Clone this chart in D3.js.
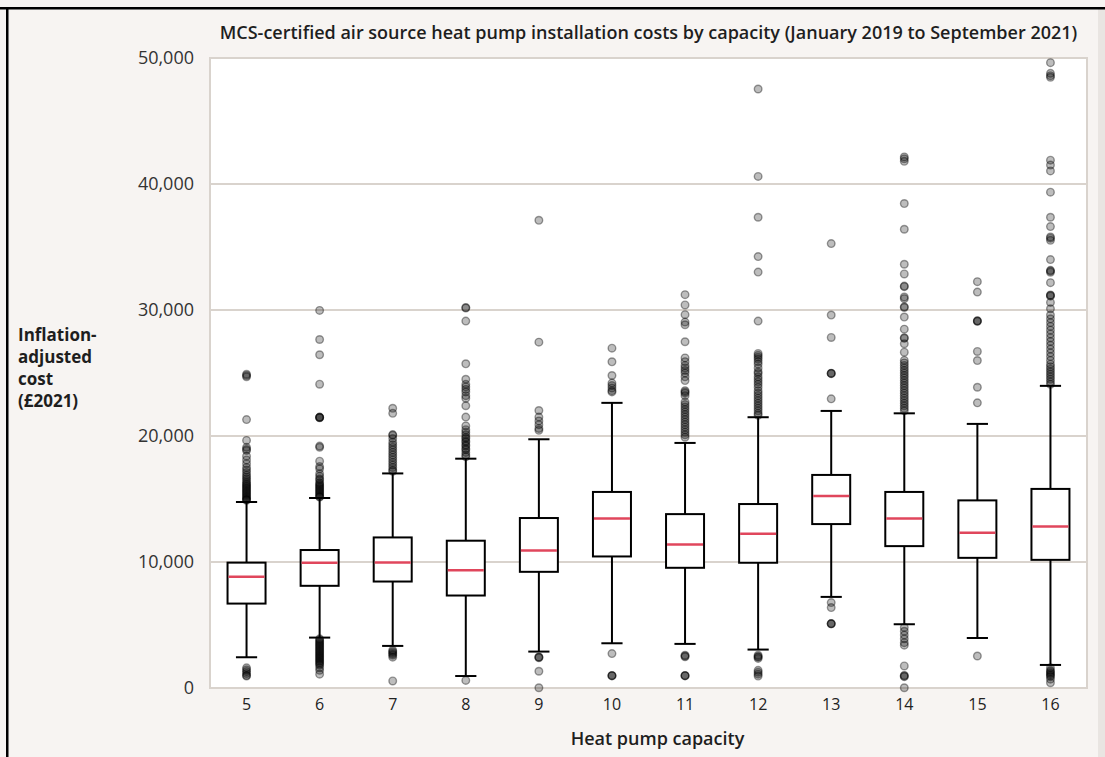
<!DOCTYPE html>
<html lang="en">
  <head>
    <meta charset="utf-8">
    <title>Heat pump installation costs by capacity</title>
    <script src="https://cdnjs.cloudflare.com/ajax/libs/d3/7.8.5/d3.min.js"></script>
    <style>
      body { margin: 0; background: #f7f4f2; }
      svg { display: block; font-family: "Open Sans", "Noto Sans", sans-serif; }
    </style>
  </head>
  <body>
    <div class="chart"></div>
    <script>

      // capacity categories (kW)
      var capacities = ["5", "6", "7", "8", "9", "10", "11", "12", "13", "14", "15", "16"];

      // box stats (£2021)
      var whiskerLow  = [2440, 4000, 3340, 950, 2890, 3550, 3500, 3050, 7230, 5060, 3970, 1830];
      var q1          = [6700, 8110, 8450, 7340, 9220, 10440, 9540, 9940, 13010, 11260, 10330, 10170];
      var medians     = [8820, 9940, 9960, 9350, 10920, 13460, 11390, 12240, 15240, 13460, 12320, 12820];
      var q3          = [9950, 10950, 11950, 11690, 13490, 15560, 13800, 14600, 16910, 15560, 14890, 15800];
      var whiskerHigh = [14760, 15080, 17030, 18200, 19740, 22630, 19450, 21490, 21990, 21800, 20960, 23980];

      // outliers per capacity
      var outliers = [
        [24900, 24800, 24700, 21300, 19650, 19100, 18950, 18850, 18400, 18100, 17800, 17500, 17300, 17100, 16900, 16750,
         16600, 16450, 16300, 16200, 16100, 16000, 15900, 15800, 15700, 15600, 15500, 15400, 15300, 15200, 15100, 15000,
         14950, 14900, 1600, 1450, 1300, 1150, 1000, 950],
        [29970, 27660, 26450, 24110, 21500, 21480, 21470, 21450, 19200, 19100, 18000, 17570, 17400, 17000, 16800, 16600,
         16500, 16300, 16200, 16100, 16000, 15900, 15800, 15700, 15600, 15500, 15400, 15300, 15200, 15150,
         3900, 3800, 3700, 3600, 3500, 3400, 3300, 3200, 3100, 3000, 2900, 2800, 2700, 2600, 2500, 2400, 2300, 2200,
         2100, 2000, 1900, 1800, 1600, 1400, 1100],
        [22200, 21800, 20110, 20050, 19800, 19500, 19300, 19100, 18900, 18700, 18500, 18300, 18100, 17900, 17700, 17500,
         17300, 17200, 3000, 2900, 2800, 2700, 2600, 2450, 560],
        [30200, 30150, 29120, 25730, 24500, 24100, 23900, 23700, 23500, 23200, 23000, 22400, 21500, 20800, 20500, 20300,
         20100, 19900, 19800, 19600, 19500, 19300, 19200, 19000, 18900, 18700, 18500, 18350, 600],
        [37120, 27450, 22020, 21500, 21200, 20900, 20600, 20450, 2460, 2450, 2400, 1330, 20],
        [26970, 25890, 24800, 24200, 24000, 23800, 23600, 23500, 2730, 1000, 980, 960],
        [31220, 30400, 29630, 29040, 28830, 27480, 26200, 25900, 25600, 25400, 25200, 25000, 24700, 24400, 23600, 23500,
         23400, 23200, 22700, 22500, 22300, 22100, 21900, 21700, 21500, 21300, 21100, 20900, 20700, 20500, 20300, 20100,
         19900, 2600, 2540, 2480, 1000, 980, 960],
        [47540, 40600, 37360, 34240, 33010, 29120, 26550, 26400, 26250, 26100, 25900, 25700, 25400, 25100, 24960, 24700,
         24500, 24300, 24100, 23870, 23600, 23400, 23200, 23000, 22800, 22600, 22400, 22200, 22000, 21800, 21650,
         2600, 2500, 2450, 2350, 1400, 1250, 1100, 950],
        [35270, 29600, 27820, 24990, 24970, 24950, 22950, 6780, 6380, 5110, 5100, 5090],
        [42150, 42000, 41800, 38450, 36410, 33630, 32860, 31900, 31850, 31030, 30900, 30250, 30200, 29440, 28480, 27800,
         27750, 27320, 26650, 26000, 25800, 25600, 25400, 25200, 25000, 24800, 24600, 24400, 24200, 24000, 23800, 23600,
         23400, 23200, 23000, 22800, 22600, 22400, 22200, 22000, 4800, 4500, 4200, 3900, 3600, 3400, 1750, 1000, 950,
         900, 20],
        [32250, 31420, 29150, 29120, 29100, 26710, 25990, 23870, 22630, 2540],
        [49630, 48780, 48600, 48470, 41890, 41500, 41040, 39350, 37360, 36620, 35800, 35700, 35530, 34000, 33150, 33090,
         33000, 32170, 31200, 31160, 31100, 30600, 30100, 29600, 29300, 29000, 28700, 28400, 28100, 27800, 27500, 27200,
         26900, 26600, 26300, 26000, 25700, 25500, 25300, 25100, 24900, 24700, 24500, 24300, 24100,
         1600, 1400, 1300, 1200, 1100, 1000, 900, 700, 420]
      ];

      var yTicks = [0, 10000, 20000, 30000, 40000, 50000];

      var svgWidth = 1105;
      var svgHeight = 757;

      var margin = { top: 58, right: 18, bottom: 69, left: 210 };
      var width = svgWidth - margin.left - margin.right;
      var height = svgHeight - margin.top - margin.bottom;

      var svg = d3.select(".chart")
        .append("svg")
        .attr("width", svgWidth)
        .attr("height", svgHeight);

      // page background + frame bits
      svg.append("rect")
        .attr("width", svgWidth).attr("height", svgHeight)
        .attr("fill", "#f7f4f2");
      svg.append("rect")
        .attr("x", 1098).attr("y", 9).attr("width", 7).attr("height", svgHeight)
        .attr("fill", "#e9e5e2");
      svg.append("rect")
        .attr("x", 0).attr("y", 7).attr("width", svgWidth).attr("height", 2.5)
        .attr("fill", "#000");
      svg.append("rect")
        .attr("x", 6).attr("y", 7).attr("width", 2.5).attr("height", svgHeight)
        .attr("fill", "#000");

      var chartGroup = svg.append("g")
        .attr("transform", `translate(${margin.left}, ${margin.top})`);

      // scales
      var x = d3.scaleBand()
        .domain(capacities)
        .range([0, width])
        .padding(0);

      var y = d3.scaleLinear()
        .domain([0, 50000])
        .range([height, 0]);

      // plot area
      chartGroup.append("rect")
        .attr("width", width).attr("height", height)
        .attr("fill", "#fff");

      // gridlines
      chartGroup.selectAll(".grid")
        .data(yTicks)
        .enter()
        .append("line")
        .attr("x1", 0).attr("x2", width)
        .attr("y1", d => y(d)).attr("y2", d => y(d))
        .attr("stroke", "#d9d3cd")
        .attr("stroke-width", 2);

      chartGroup.append("rect")
        .attr("width", width).attr("height", height)
        .attr("fill", "none")
        .attr("stroke", "#d9d3cd")
        .attr("stroke-width", 2);

      // axes
      var leftAxis = d3.axisLeft(y)
        .tickValues(yTicks)
        .tickFormat(d3.format(","))
        .tickSize(0)
        .tickPadding(16);

      var yAxisG = chartGroup.append("g").call(leftAxis);
      yAxisG.select(".domain").remove();
      yAxisG.selectAll("text")
        .attr("font-size", 18)
        .attr("font-family", "'Open Sans', sans-serif")
        .attr("fill", "#333");

      var bottomAxis = d3.axisBottom(x)
        .tickSize(0)
        .tickPadding(11);

      var xAxisG = chartGroup.append("g")
        .attr("transform", `translate(0, ${height})`)
        .call(bottomAxis);
      xAxisG.select(".domain").remove();
      xAxisG.selectAll("text")
        .attr("font-size", 16)
        .attr("font-family", "'Open Sans', sans-serif")
        .attr("fill", "#222");

      // boxes
      var boxW = x.bandwidth() * 0.52;
      var capW = x.bandwidth() * 0.29;

      var stats = capacities.map((c, i) => ({
        cap: c, lo: whiskerLow[i], q1: q1[i], med: medians[i], q3: q3[i], hi: whiskerHigh[i], out: outliers[i]
      }));

      var boxes = chartGroup.selectAll(".box")
        .data(stats)
        .enter()
        .append("g")
        .attr("transform", d => `translate(${x(d.cap) + x.bandwidth() / 2}, 0)`);

      // outlier points first so the whiskers sit on top
      boxes.selectAll("circle")
        .data(d => d.out)
        .enter()
        .append("circle")
        .attr("cx", 0)
        .attr("cy", d => y(d))
        .attr("r", 3.8)
        .attr("fill", "#000")
        .attr("fill-opacity", 0.26)
        .attr("stroke", "#000")
        .attr("stroke-opacity", 0.38)
        .attr("stroke-width", 1.4);

      // whisker lines
      boxes.append("line")
        .attr("y1", d => y(d.hi)).attr("y2", d => y(d.q3))
        .attr("stroke", "#000").attr("stroke-width", 2);
      boxes.append("line")
        .attr("y1", d => y(d.q1)).attr("y2", d => y(d.lo))
        .attr("stroke", "#000").attr("stroke-width", 2);

      // caps
      boxes.append("line")
        .attr("x1", -capW / 2).attr("x2", capW / 2)
        .attr("y1", d => y(d.hi)).attr("y2", d => y(d.hi))
        .attr("stroke", "#000").attr("stroke-width", 2);
      boxes.append("line")
        .attr("x1", -capW / 2).attr("x2", capW / 2)
        .attr("y1", d => y(d.lo)).attr("y2", d => y(d.lo))
        .attr("stroke", "#000").attr("stroke-width", 2);

      boxes.append("rect")
        .attr("x", -boxW / 2)
        .attr("width", boxW)
        .attr("y", d => y(d.q3))
        .attr("height", d => y(d.q1) - y(d.q3))
        .attr("fill", "#fff")
        .attr("stroke", "#000")
        .attr("stroke-width", 2);

      // medians
      boxes.append("line")
        .attr("x1", -boxW / 2 + 1).attr("x2", boxW / 2 - 1)
        .attr("y1", d => y(d.med)).attr("y2", d => y(d.med))
        .attr("stroke", "#e0465c")
        .attr("stroke-width", 2.5);

      // title
      svg.append("text")
        .attr("x", margin.left + width / 2)
        .attr("y", 39)
        .attr("text-anchor", "middle")
        .attr("font-size", 18)
        .attr("font-weight", 600)
        .attr("fill", "#1e1e1e")
        .text("MCS-certified air source heat pump installation costs by capacity (January 2019 to September 2021)");

      // axis labels
      var yLabel = svg.append("text")
        .attr("x", 18)
        .attr("y", 341)
        .attr("font-size", 17)
        .attr("font-weight", 700)
        .attr("fill", "#1e1e1e");
      ["Inflation-", "adjusted", "cost", "(£2021)"].forEach(function (t, i) {
        yLabel.append("tspan")
          .attr("x", 18)
          .attr("dy", i === 0 ? 0 : 22)
          .text(t);
      });

      svg.append("text")
        .attr("x", margin.left + width / 2 + 9)
        .attr("y", 745)
        .attr("text-anchor", "middle")
        .attr("font-size", 18)
        .attr("font-weight", 600)
        .attr("fill", "#1e1e1e")
        .text("Heat pump capacity");
    </script>
  </body>
</html>
